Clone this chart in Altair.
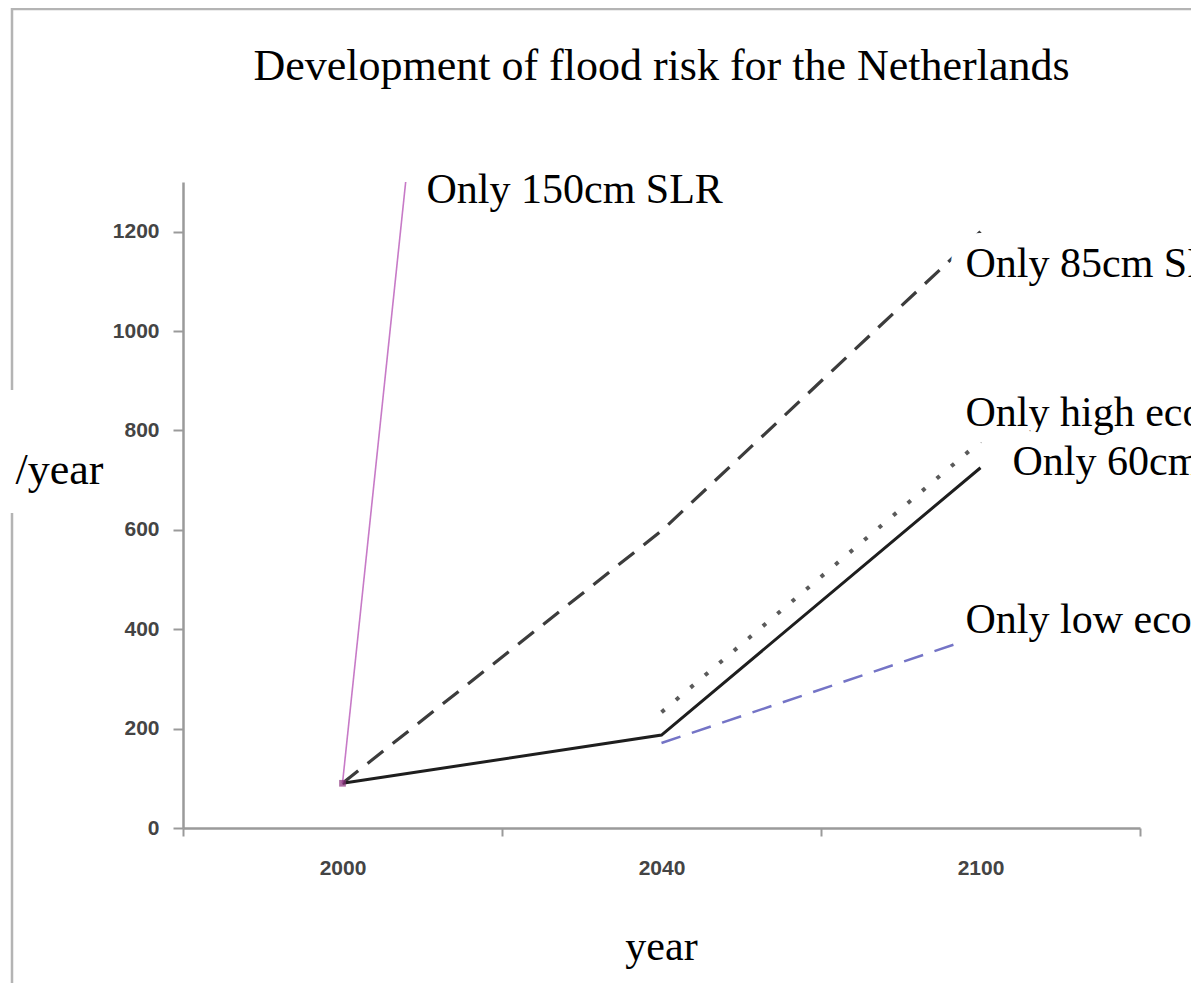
import altair as alt
import pandas as pd

# ---- data ----
years = ["2000", "2040", "2100"]
slr_60 = [90, 187, 725]
slr_85 = [90, 598, 1200]
slr_150 = [90, 6200, None]
high_econ = [None, 233, 778]
low_econ = [None, 171, 387]

label_texts = ["Only 150cm SLR", "Only 85cm SLR", "Only high economic growth",
               "Only 60cm SLR", "Only low economic growth"]
label_years = ["2000", "2100", "2100", "2100", "2100"]
label_values = [1284, 1135, 835, 737, 419]
label_dx = [84, -15, -15, 32, -15]

y_ticks = [0, 200, 400, 600, 800, 1000, 1200]
chart_title = "Development of flood risk for the Netherlands"

SERIF = "Liberation Serif"
SANS = "Liberation Sans"

x_enc = alt.X(
    "year:N",
    sort=years,
    scale=alt.Scale(type="band", domain=years, paddingInner=0, paddingOuter=0),
    axis=alt.Axis(
        title="year", tickBand="extent", labelAngle=0,
        domainColor="#9a9a9a", domainWidth=2.5, tickColor="#9a9a9a", tickWidth=2,
        tickSize=8, labelFont=SANS, labelFontSize=21, labelFontWeight="bold",
        labelColor="#444444", labelPadding=21, titleFont=SANS, titleFontSize=1,
        titleColor="white", grid=False,
    ),
)
y_enc = alt.Y(
    "value:Q",
    scale=alt.Scale(domain=[0, 1300], nice=False, zero=True),
    axis=alt.Axis(
        values=y_ticks, format="d", title="/year", titleAngle=0, titleAlign="right",
        titleBaseline="middle", titleX=-80, titleY=288, titleFont=SERIF,
        titleFontSize=44, titleFontWeight="normal", titleColor="black",
        domainColor="#9a9a9a", domainWidth=2.5, tickColor="#9a9a9a", tickWidth=2,
        tickSize=10, labelFont=SANS, labelFontSize=21, labelFontWeight="bold",
        labelColor="#444444", labelPadding=14, grid=False,
    ),
)


def series(values, **mark):
    df = pd.DataFrame({"year": years, "value": values}).dropna()
    return alt.Chart(df).mark_line(clip=True, **mark).encode(x=x_enc, y=y_enc)


layers = [
    series(low_econ, color="#7474c6", strokeWidth=2.5, strokeDash=[20, 12]),
    series(high_econ, color="#5a5a5a", strokeWidth=4, strokeDash=[4, 15]),
    series(slr_85, color="#3c3c3c", strokeWidth=3.2, strokeDash=[20, 12]),
    series(slr_60, color="#1e1e1e", strokeWidth=3),
    series(slr_150, color="#c77ac7", strokeWidth=1.6),
]

marker_df = pd.DataFrame({"year": years[:1], "value": slr_150[:1]})
layers.append(
    alt.Chart(marker_df).mark_point(shape="square", filled=True, size=45,
                                    color="#8a2f7c").encode(x=x_enc, y=y_enc)
)

# annotation labels with white boxes (halo) behind them
for t, yr, v, dx in zip(label_texts, label_years, label_values, label_dx):
    ldf = pd.DataFrame({"year": [yr], "value": [v], "label": [t]})
    common = dict(align="left", baseline="middle", font=SERIF, fontSize=42, dx=dx)
    layers.append(
        alt.Chart(ldf).mark_text(stroke="white", strokeWidth=32,
                                 strokeJoin="round", color="white", **common)
        .encode(x=x_enc, y=y_enc, text="label:N")
    )
    layers.append(
        alt.Chart(ldf).mark_text(color="black", **common)
        .encode(x=x_enc, y=y_enc, text="label:N")
    )

# x-axis title and chart title drawn as text, centred on the middle band
xt_df = pd.DataFrame({"year": ["2040"], "t": ["year"]})
layers.append(
    alt.Chart(xt_df).mark_text(font=SERIF, fontSize=42, baseline="alphabetic",
                               color="black")
    .encode(x=x_enc, y=alt.value(778), text="t:N")
)
tt_df = pd.DataFrame({"year": ["2040"], "t": [chart_title]})
layers.append(
    alt.Chart(tt_df).mark_text(font=SERIF, fontSize=44, baseline="alphabetic",
                               color="black")
    .encode(x=x_enc, y=alt.value(-102), text="t:N")
)

# image frame (decoration)
frame_df = pd.DataFrame({"a": [0]})
frame_style = dict(color="#b4b4b4", strokeWidth=2.5)
layers += [
    alt.Chart(frame_df).mark_rule(**frame_style).encode(
        x=alt.value(-171), y=alt.value(-174), y2=alt.value(208)),
    alt.Chart(frame_df).mark_rule(**frame_style).encode(
        x=alt.value(-171), y=alt.value(331), y2=alt.value(900)),
    alt.Chart(frame_df).mark_rule(**frame_style).encode(
        x=alt.value(-171), x2=alt.value(1100), y=alt.value(-173)),
]

chart = alt.layer(*layers).properties(
    width=957,
    height=646,
    autosize=alt.AutoSizeParams(type="none"),
    padding={"left": 175, "top": 174, "right": 51, "bottom": 155},
).configure_view(stroke=None)

chart.save("out.html", embed_options={"renderer": "svg", "actions": False})
